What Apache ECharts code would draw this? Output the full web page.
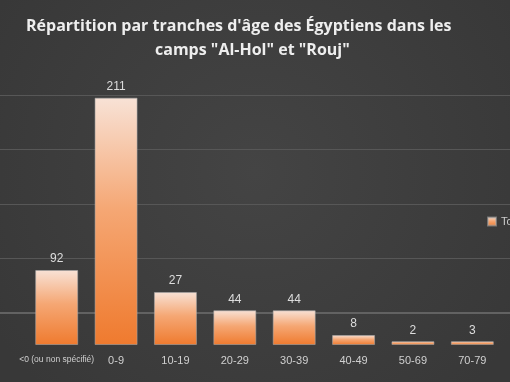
<!DOCTYPE html>
<html>
<head>
<meta charset="utf-8">
<script src="https://cdn.jsdelivr.net/npm/echarts@6/dist/echarts.min.js"></script>
<style>html,body{margin:0;padding:0;background:#3d3d3d;}#c{width:510px;height:382px;}</style>
</head>
<body>
<div id="c"></div>
<script>
// Categories (age ranges)
var categories = ['<0 (ou non spécifié)', '0-9', '10-19', '20-29', '30-39', '40-49', '50-69', '70-79'];
// Numbers printed above each bar
var printedValues = [92, 211, 27, 44, 44, 8, 2, 3];
// Bar heights as drawn in the picture (estimated, same units as the tallest printed value)
var barHeights = [64.0, 211, 45.2, 29.6, 29.6, 8.5, 3.2, 3.2];
var seriesName = 'Total';
var titleLine1 = 'Répartition par tranches d\'âge des Égyptiens dans les';
var titleLine2 = 'camps "Al-Hol" et "Rouj"';

var chart = echarts.init(document.getElementById('c'), null, {renderer: 'canvas'});
var option = {
  backgroundColor: {
    type: 'radial', x: 0.5, y: 0.45, r: 0.8,
    colorStops: [{offset: 0, color: '#444444'}, {offset: 1, color: '#383838'}]
  },
  animation: false,
  title: [
    {text: titleLine1, left: 26, top: 18.5, padding: 0,
     textStyle: {color: '#eeeeee', fontFamily: 'Open Sans', fontWeight: 'bold', fontSize: 16}},
    {text: titleLine2, left: 155, top: 42, padding: 0,
     textStyle: {color: '#eeeeee', fontFamily: 'Open Sans', fontWeight: 'bold', fontSize: 16}}
  ],
  legend: {
    data: [seriesName], left: 487, top: 216, itemWidth: 8, itemHeight: 8, itemGap: 4,
    icon: 'rect', padding: 0,
    textStyle: {color: '#cccccc', fontSize: 11, fontFamily: 'Liberation Sans'}
  },
  grid: [
    {left: 0, right: 0, top: 95, bottom: 69, containLabel: false},
    {left: 27, right: 8, top: 95, bottom: 37, containLabel: false}
  ],
  xAxis: [
    {gridIndex: 0, type: 'value', min: 0, max: 1, offset: 32,
     axisLine: {show: true, lineStyle: {color: '#626262', width: 2}},
     axisTick: {show: false}, axisLabel: {show: false}, splitLine: {show: false}},
    {gridIndex: 1, type: 'category', data: categories.map(function (c, i) {
        return i === 0 ? {value: c, textStyle: {fontSize: 8.5}} : c;
      }),
     axisLine: {show: false}, axisTick: {show: false},
     axisLabel: {color: '#d0d0d0', fontSize: 11, fontFamily: 'Liberation Sans', margin: 10, interval: 0}}
  ],
  yAxis: [
    {gridIndex: 0, type: 'value', min: 0, max: 4, interval: 1,
     axisLine: {show: false}, axisTick: {show: false}, axisLabel: {show: false},
     splitLine: {show: true, lineStyle: {color: '#575757', width: 1}}},
    {gridIndex: 1, type: 'value', min: 0, max: 213.3,
     axisLine: {show: false}, axisTick: {show: false}, axisLabel: {show: false},
     splitLine: {show: false}}
  ],
  series: [{
    name: seriesName, type: 'bar', xAxisIndex: 1, yAxisIndex: 1,
    barWidth: 43,
    data: barHeights,
    itemStyle: {
      color: {
        type: 'linear', x: 0, y: 0, x2: 0, y2: 1,
        colorStops: [
          {offset: 0, color: '#f8e2d6'},
          {offset: 0.45, color: '#f5a774'},
          {offset: 1, color: '#ef7a2e'}
        ]
      },
      borderColor: 'rgba(170,170,170,0.55)', borderWidth: 1
    },
    label: {
      show: true, position: 'top', distance: 5,
      color: '#dddddd', fontSize: 12, fontFamily: 'Liberation Sans',
      formatter: function (p) { return String(printedValues[p.dataIndex]); }
    }
  }]
};
chart.setOption(option);
</script>
</body>
</html>
